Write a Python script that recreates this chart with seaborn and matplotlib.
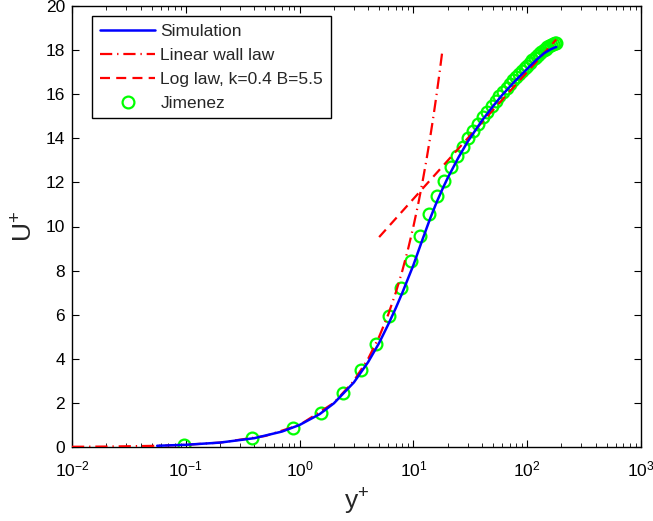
import numpy as np
import pandas as pd
import matplotlib
matplotlib.use("Agg")
import matplotlib.pyplot as plt
import seaborn as sns
from matplotlib.ticker import LogLocator, NullFormatter

# ---------------- data ----------------
sim_yplus = [0.056, 0.1, 0.2, 0.4, 0.7, 1.0, 1.5, 2.0, 3.0, 4.0, 5.0, 6.0, 7.0, 8.0,
             10.0, 12.0, 14.0, 16.0, 18.0, 20.0, 25.0, 30.0, 40.0, 50.0, 60.0, 80.0,
             100.0, 120.0, 140.0, 160.0, 175.0, 180.0]
sim_uplus = [0.056, 0.1, 0.2, 0.4, 0.7, 1.0, 1.49, 1.98, 2.93, 3.85, 4.72, 5.55, 6.3, 7.0,
             8.25, 9.4, 10.35, 11.1, 11.7, 12.2, 13.15, 13.85, 14.8, 15.45, 15.95, 16.65,
             17.15, 17.55, 17.85, 18.03, 18.12, 18.14]

lin_yplus = [0.01, 0.02, 0.05, 0.1, 0.2, 0.5, 1, 2, 3, 4, 5, 6, 7, 8, 9, 10,
             11, 12, 13, 14, 15, 16, 17, 18]
lin_uplus = [0.01, 0.02, 0.05, 0.1, 0.2, 0.5, 1, 2, 3, 4, 5, 6, 7, 8, 9, 10,
             11, 12, 13, 14, 15, 16, 17, 18]

log_yplus = [5.0, 180.0]
log_uplus = [9.52, 18.48]

jim_yplus = [0.0964, 0.385, 0.867, 1.54, 2.405, 3.458, 4.70, 6.13, 7.75, 9.55, 11.54,
             13.70, 16.04, 18.56, 21.25, 24.12, 27.14, 30.34, 33.69, 37.20, 40.86,
             44.67, 48.63, 52.72, 56.95, 61.32, 65.81, 70.42, 75.16, 80.0, 84.95, 90.0,
             95.15, 100.39, 105.71, 111.12, 116.59, 122.14, 127.75, 133.41, 139.13,
             144.88, 150.68, 156.50, 162.36, 168.23, 174.11, 180.0]
jim_uplus = [0.096, 0.39, 0.87, 1.55, 2.43, 3.48, 4.68, 5.95, 7.22, 8.45, 9.57,
             10.55, 11.40, 12.06, 12.68, 13.2, 13.6, 14.0, 14.35, 14.65, 14.95,
             15.2, 15.45, 15.68, 15.9, 16.1, 16.3, 16.47, 16.63, 16.78, 16.92, 17.05,
             17.18, 17.3, 17.42, 17.53, 17.63, 17.73, 17.82, 17.91, 17.99,
             18.06, 18.12, 18.18, 18.23, 18.27, 18.3, 18.31]

labels = ["Simulation", "Linear wall law", "Log law, k=0.4 B=5.5", "Jimenez"]
x_label = "y$^{+}$"
y_label = "U$^{+}$"

# ---------------- style ----------------
sns.set_style("white")
plt.rcParams["font.family"] = ["Liberation Sans", "DejaVu Sans"]
plt.rcParams["mathtext.default"] = "regular"

fig = plt.figure(figsize=(6.53, 5.21), dpi=100)
ax = fig.add_axes([72/653, 74/521, 569/653, 441/521])
ax.set_xscale("log")

df_sim = pd.DataFrame({"y": sim_yplus, "u": sim_uplus})
df_lin = pd.DataFrame({"y": lin_yplus, "u": lin_uplus})
df_log = pd.DataFrame({"y": log_yplus, "u": log_uplus})
df_jim = pd.DataFrame({"y": jim_yplus, "u": jim_uplus})

sns.lineplot(data=df_jim, x="y", y="u", ax=ax, sort=False, estimator=None,
             linestyle="none", marker="o", markersize=8.5, markerfacecolor="none",
             markeredgecolor=(0, 1, 0), markeredgewidth=1.6, color=(0, 1, 0),
             label=labels[3], zorder=2)
sns.lineplot(data=df_lin, x="y", y="u", ax=ax, sort=False, estimator=None,
             color=(1, 0, 0), linewidth=1.6, dashes=False, label=labels[1], zorder=3)
sns.lineplot(data=df_log, x="y", y="u", ax=ax, sort=False, estimator=None,
             color=(1, 0, 0), linewidth=1.6, dashes=False, label=labels[2], zorder=3)
sns.lineplot(data=df_sim, x="y", y="u", ax=ax, sort=False, estimator=None,
             color=(0, 0, 1), linewidth=1.8, label=labels[0], zorder=4)

# line dash patterns (MATLAB-like)
for ln in ax.get_lines():
    if ln.get_label() == labels[1]:
        ln.set_dashes((5.5, 2.2, 0.6, 2.2))
    elif ln.get_label() == labels[2]:
        ln.set_dashes((4.5, 2.8))

ax.set_xlim(1e-2, 1e3)
ax.set_ylim(0, 20)
ax.set_yticks(range(0, 21, 2))
ax.xaxis.set_major_locator(LogLocator(base=10, numticks=10))
ax.xaxis.set_minor_locator(LogLocator(base=10, subs=np.arange(2, 10), numticks=100))
ax.xaxis.set_minor_formatter(NullFormatter())

for s in ax.spines.values():
    s.set_visible(True)
    s.set_color("black")
    s.set_linewidth(1.0)

ax.tick_params(which="both", direction="in", top=True, right=True, bottom=True, left=True,
               colors="black")
ax.tick_params(which="major", length=5, width=0.8, labelsize=12.5)
ax.tick_params(axis="x", which="major", pad=9)
ax.tick_params(axis="y", which="major", pad=5)
ax.tick_params(which="minor", length=3, width=0.6)

ax.set_xlabel(x_label, fontsize=19, labelpad=5)
ax.set_ylabel(y_label, fontsize=19, labelpad=6)

handles, lbls = ax.get_legend_handles_labels()
order = [lbls.index(l) for l in labels]
leg = ax.legend([handles[i] for i in order], [lbls[i] for i in order],
                loc="upper left", bbox_to_anchor=(0.035, 0.977), borderaxespad=0,
                fontsize=12.5, frameon=True, fancybox=False, shadow=False,
                edgecolor="black", framealpha=1, handlelength=3.2, handletextpad=0.3,
                labelspacing=0.5, borderpad=0.45)
leg.get_frame().set_linewidth(1.0)
for h in leg.legend_handles:
    if h.get_label() == labels[1]:
        h.set_dashes((5.5, 2.2, 0.6, 2.2))
    elif h.get_label() == labels[2]:
        h.set_dashes((4.5, 2.8))

fig.savefig("out.png", dpi=100)
